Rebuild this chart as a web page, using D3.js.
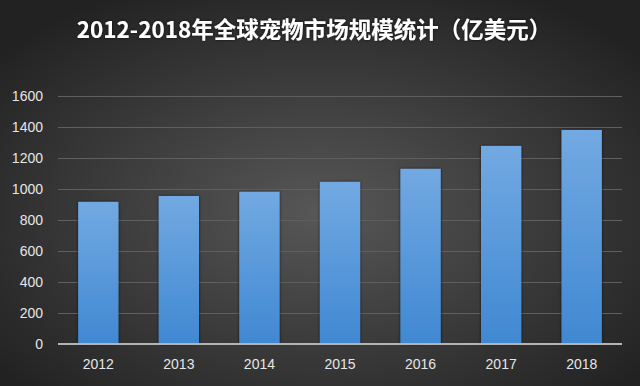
<!DOCTYPE html>
<html>
<head>
<meta charset="utf-8">
<script src="https://cdn.jsdelivr.net/npm/d3@7"></script>
<style>
    html, body { margin: 0; padding: 0; background: #2a2a2a; }
    svg { display: block; }
    .axis-y .tick text, .axis-x .tick text { fill: #e6e6e6; font-family: "Liberation Sans", "DejaVu Sans", sans-serif; font-size: 14px; }
    .axis-y .tick line { stroke: #5f5f5f; stroke-width: 1; }
    .axis path.domain { display: none; }
    .axis-x .tick line { display: none; }
</style>
</head>
<body>
<svg id="chart" width="640" height="386"></svg>
<script>
const TITLE = "2012-2018年全球宠物市场规模统计（亿美元）";
const years = ["2012", "2013", "2014", "2015", "2016", "2017", "2018"];
const marketSize = [917, 955, 982, 1046, 1130, 1278, 1381];
const yTicks = [0, 200, 400, 600, 800, 1000, 1200, 1400, 1600];

const W = 640, H = 386;
const MARGINS = {top: 96, right: 18, bottom: 42, left: 58};

let svg = d3.select("#chart");
let defs = svg.append("defs");

// background: dark radial glow
let bg = defs.append("radialGradient")
    .attr("id", "bg")
    .attr("cx", "50%").attr("cy", "55%").attr("r", "65%");
bg.append("stop").attr("offset", "0%").attr("stop-color", "#575757");
bg.append("stop").attr("offset", "100%").attr("stop-color", "#222222");

let barGrad = defs.append("linearGradient")
    .attr("id", "bar")
    .attr("x1", 0).attr("y1", 0).attr("x2", 0).attr("y2", 1);
barGrad.append("stop").attr("offset", "0%").attr("stop-color", "#72a9e2");
barGrad.append("stop").attr("offset", "100%").attr("stop-color", "#4088d2");

let shadow = defs.append("filter").attr("id", "shadow")
    .attr("x", "-20%").attr("y", "-20%").attr("width", "140%").attr("height", "140%");
shadow.append("feDropShadow")
    .attr("dx", 0).attr("dy", 0).attr("stdDeviation", 1.5)
    .attr("flood-color", "#000").attr("flood-opacity", 0.7);

svg.append("rect").attr("width", W).attr("height", H).attr("fill", "url(#bg)");

// title
svg.append("text")
    .attr("x", 314).attr("y", 38)
    .attr("text-anchor", "middle")
    .attr("fill", "#ffffff")
    .attr("font-family", "'Noto Sans CJK SC', sans-serif")
    .attr("font-weight", "bold")
    .attr("font-size", 22.5)
    .attr("filter", "url(#shadow)")
    .text(TITLE);

let w = W - MARGINS.left - MARGINS.right,
    h = H - MARGINS.top - MARGINS.bottom;

let g = svg.append("g")
    .attr("transform", `translate(${MARGINS.left},${MARGINS.top})`);

let xScale = d3.scaleBand()
    .domain(years)
    .range([0, w])
    .paddingInner(0.5)
    .paddingOuter(0.25);

let yScale = d3.scaleLinear()
    .domain([0, 1600])
    .range([h, 0]);

let yAxis = d3.axisLeft(yScale)
    .tickValues(yTicks)
    .tickSize(-w)
    .tickPadding(15)
    .tickFormat(d => d);

g.append("g")
    .attr("class", "axis axis-y")
    .call(yAxis);

// bars
g.selectAll("rect.bar")
    .data(years.map((y, i) => ({year: y, value: marketSize[i]})))
    .enter().append("rect")
        .attr("class", "bar")
        .attr("x", d => xScale(d.year))
        .attr("y", d => yScale(d.value))
        .attr("width", xScale.bandwidth())
        .attr("height", d => h - yScale(d.value))
        .attr("fill", "url(#bar)")
        .attr("filter", "url(#shadow)");

// baseline
g.append("line")
    .attr("x1", 0).attr("x2", w)
    .attr("y1", yScale(0)).attr("y2", yScale(0))
    .attr("stroke", "#b4b4b4")
    .attr("stroke-width", 2);

let xAxis = d3.axisBottom(xScale)
    .tickSize(0)
    .tickPadding(15);

g.append("g")
    .attr("class", "axis axis-x")
    .attr("transform", `translate(0,${h})`)
    .call(xAxis);
</script>
</body>
</html>
